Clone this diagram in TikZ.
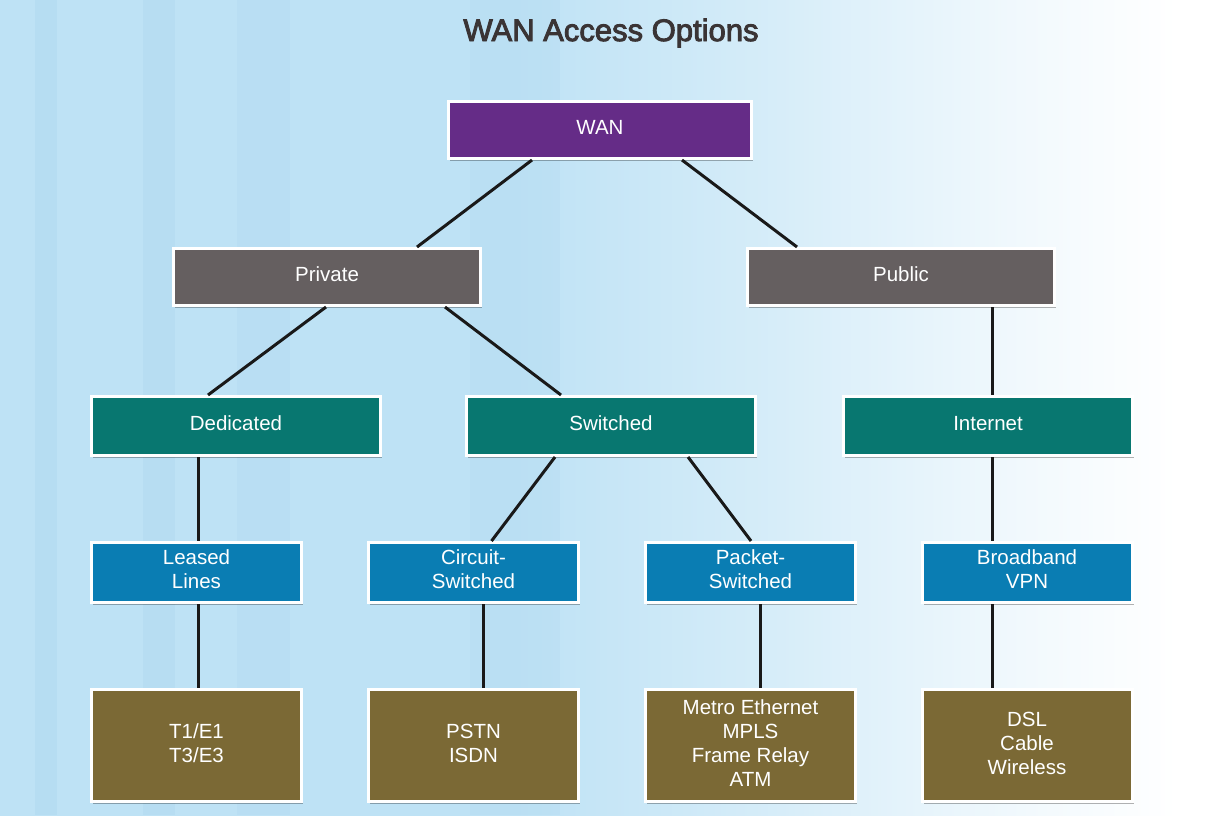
\documentclass[tikz,border=0pt]{standalone}
\usepackage{fontspec}
\setmainfont{Liberation Sans}
\newfontfamily\titlefont[FakeBold=3]{Liberation Sans}
\usetikzlibrary{calc,shadows}
\definecolor{bgA}{RGB}{190,226,245}
\definecolor{bgB}{RGB}{178,218,240}
\definecolor{titlec}{RGB}{58,52,53}
\definecolor{wanc}{RGB}{101,44,135}
\definecolor{grayc}{RGB}{101,95,96}
\definecolor{tealc}{RGB}{8,119,112}
\definecolor{bluec}{RGB}{10,125,179}
\definecolor{olivec}{RGB}{123,105,53}
\definecolor{linec}{RGB}{25,25,25}
\pgfdeclarehorizontalshading{bgshade}{100bp}{color(0bp)=(bgA); color(25bp)=(bgA); color(46bp)=(bgA); color(56bp)=(bgA!65!white); color(67bp)=(bgA!20!white); color(73bp)=(white); color(100bp)=(white)}
\tikzset{
  box/.style={rectangle, draw=white, line width=3pt, inner sep=0pt, text=white,
    align=center, font=\fontsize{20.5}{24}\selectfont,
    drop shadow={shadow xshift=1.5pt, shadow yshift=-2.5pt, opacity=0.3, fill=black}},
  oneline/.style={text height=15pt, text depth=6pt},
  wanbox/.style={box, oneline, fill=wanc, minimum width=303pt, minimum height=57pt},
  graybox/.style={box, oneline, fill=grayc, minimum width=307pt, minimum height=57pt},
  tealbox/.style={box, oneline, fill=tealc, minimum width=289pt, minimum height=59pt},
  bluebox/.style={box, text depth=6pt, fill=bluec, minimum width=210pt, minimum height=60pt},
  olivebox/.style={box, text depth=4pt, fill=olivec, minimum width=210pt, minimum height=112pt},
  conn/.style={draw=linec, line width=3pt}
}
\begin{document}
\begin{tikzpicture}[x=1pt,y=-1pt]
\useasboundingbox (0,0) rectangle (1226,815);
\shade[shading=bgshade] (0,0) rectangle (1226,815);
% faint vertical stripes
\fill[bgB, opacity=0.6] (35,0) rectangle (57,815);
\fill[bgB, opacity=0.5] (143,0) rectangle (175,815);
\fill[bgB, opacity=0.4] (237,0) rectangle (290,815);
\fill[bgB, opacity=0.3] (470,0) rectangle (560,815);

\node[text=titlec, font=\titlefont\fontsize{31}{36}\selectfont] (title) at (611,33) {WAN Access Options};

\node[wanbox] (wan) at (600,130) {WAN};
\node[graybox] (private) at (327,277) {Private};
\node[graybox] (public) at (901,277) {Public};
\node[tealbox] (dedicated) at (236,426) {Dedicated};
\node[tealbox] (switched) at (611,426) {Switched};
\node[tealbox] (internet) at (988,426) {Internet};
\node[bluebox] (leased) at (196.5,572.5) {Leased\\Lines};
\node[bluebox] (circuit) at (473.5,572.5) {Circuit-\\Switched};
\node[bluebox] (packet) at (750.5,572.5) {Packet-\\Switched};
\node[bluebox] (broadband) at (1027,572.5) {Broadband\\VPN};
\node[olivebox] (t1) at (196.5,745.5) {T1/E1\\T3/E3};
\node[olivebox] (pstn) at (473.5,745.5) {PSTN\\ISDN};
\node[olivebox] (metro) at (750.5,745.5) {Metro Ethernet\\MPLS\\Frame Relay\\ATM};
\node[olivebox] (dsl) at (1027,745.5) {DSL\\Cable\\Wireless};

\draw[conn] ($(wan.south)+(-68,0)$) -- ($(private.north)+(90,0)$);
\draw[conn] ($(wan.south)+(82,0)$) -- ($(public.north)+(-104,0)$);
\draw[conn] ($(private.south)+(-1,0)$) -- ($(dedicated.north)+(-28,0)$);
\draw[conn] ($(private.south)+(118,0)$) -- ($(switched.north)+(-50,0)$);
\draw[conn] ($(public.south)+(91,0)$) -- ($(internet.north)+(4,0)$);
\draw[conn] ($(dedicated.south)+(-38,0)$) -- ($(leased.north)+(1.5,0)$);
\draw[conn] ($(switched.south)+(-56,0)$) -- ($(circuit.north)+(18,0)$);
\draw[conn] ($(switched.south)+(77,0)$) -- ($(packet.north)+(0.5,0)$);
\draw[conn] ($(internet.south)+(4,0)$) -- ($(broadband.north)+(-35,0)$);
\draw[conn] ($(leased.south)+(1.5,0)$) -- ($(t1.north)+(1.5,0)$);
\draw[conn] ($(circuit.south)+(9.5,0)$) -- ($(pstn.north)+(9.5,0)$);
\draw[conn] ($(packet.south)+(9.5,0)$) -- ($(metro.north)+(9.5,0)$);
\draw[conn] ($(broadband.south)+(-35,0)$) -- ($(dsl.north)+(-35,0)$);
\end{tikzpicture}
\end{document}
